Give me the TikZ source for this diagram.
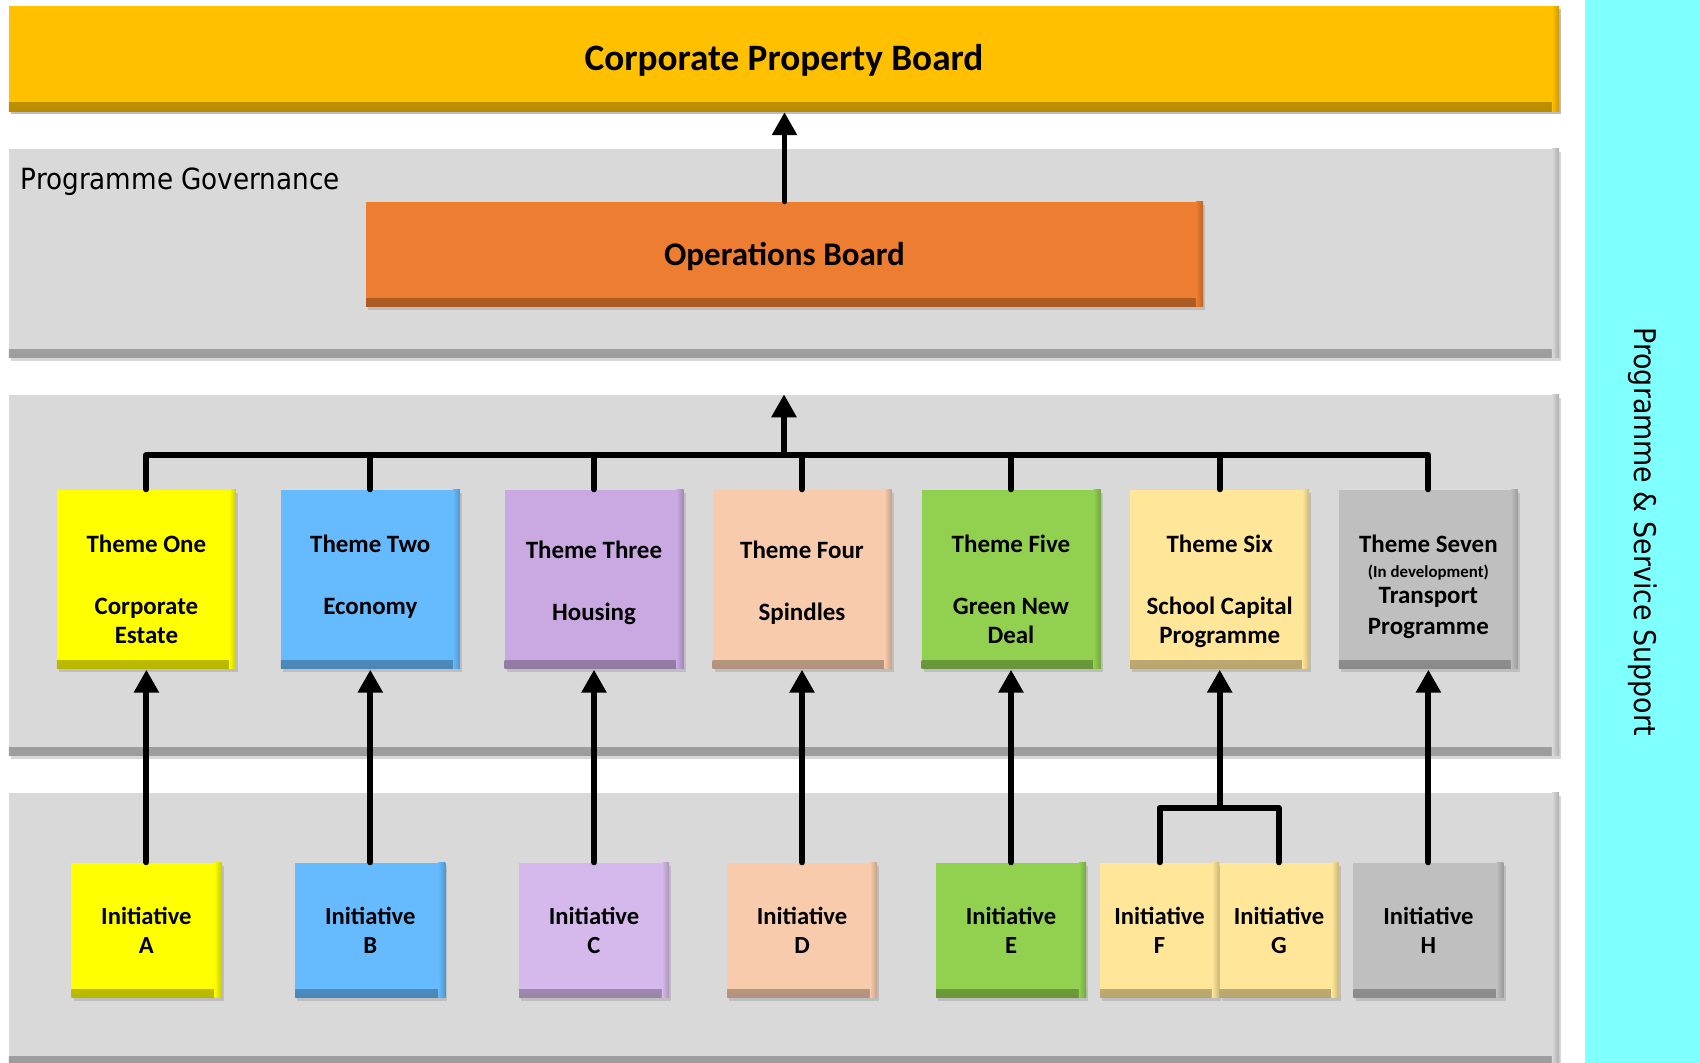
\documentclass[tikz,border=0pt]{standalone}
\usepackage{fontspec}
\setmainfont{Carlito}
\newfontfamily\sidefont[FakeStretch=0.9]{DejaVu Sans}
\usepackage{tikz}
\usetikzlibrary{shapes,arrows.meta,positioning,shadows}
\definecolor{corpgold}{HTML}{FFC000}
\definecolor{opsorange}{HTML}{ED7D31}
\definecolor{bandgrey}{HTML}{D9D9D9}
\definecolor{supportcyan}{HTML}{80FFFF}
\definecolor{themeyellow}{HTML}{FFFF00}
\definecolor{themeblue}{HTML}{66BBFF}
\definecolor{themepurple}{HTML}{CAA9E3}
\definecolor{initpurple}{HTML}{D5B9EC}
\definecolor{themepeach}{HTML}{F7CBAC}
\definecolor{themegreen}{HTML}{92D050}
\definecolor{themecream}{HTML}{FFE699}
\definecolor{themegrey}{HTML}{BFBFBF}
\tikzset{bevel/.style={fill=#1, inner sep=0pt,
	drop shadow={shadow xshift=0.6pt, shadow yshift=-0.8pt, opacity=0.3},
	path picture={
		\shade[top color=#1, bottom color=#1!72!black] ([yshift=2.5pt]path picture bounding box.south west) rectangle (path picture bounding box.south east);
		\shade[left color=#1, right color=#1!80!black] ([xshift=-2pt]path picture bounding box.south east) rectangle (path picture bounding box.north east);}}}
\tikzstyle{band} =[bevel=bandgrey, minimum width=15.5cm]
\tikzstyle{board} =[font=\bfseries\fontsize{10.6}{12}\selectfont, minimum height=1.05cm, text height=2.4mm, text depth=0mm]
\tikzstyle{theme} =[minimum width=1.79cm, minimum height=1.79cm]
\tikzstyle{themetext} =[inner sep=0pt, align=center, font=\bfseries\fontsize{7.1}{8.4}\selectfont]
\tikzstyle{initiative} =[minimum width=1.5cm, minimum height=1.35cm, align=center, font=\bfseries\fontsize{7}{8.3}\selectfont]
\tikzstyle{wire} =[line width=1.7pt, line cap=round, line join=round]
\tikzstyle{arrow} =[wire, -{Triangle[length=2.3mm, width=2.4mm]}]

\begin{document}
\begin{tikzpicture}
	\useasboundingbox (0,0) rectangle (17,10.63);
	\fill[white] (0,0) rectangle (17,10.63);
	% side column
	\node[fill=supportcyan, minimum width=10.63cm, minimum height=1.15cm, inner sep=0pt, rotate=-90,
		font=\sidefont\fontsize{8.5}{10}\selectfont] (support) at (16.425,5.315) {Programme \& Service Support};
	% grey bands
	\node[band, minimum height=2.09cm] (govband) at (7.84,8.095) {};
	\node[band, minimum height=3.61cm] (themeband) at (7.84,4.875) {};
	\node[band, minimum height=2.72cm] (initband) at (7.84,1.34) {};
	\node[anchor=west, inner sep=0pt, font=\sidefont\fontsize{8.3}{10}\selectfont] (govlabel) at (0.2,8.81) {Programme Governance};
	% boards
	\node[band, board, bevel=corpgold] (corp) at (7.84,10.04) {Corporate Property Board};
	\node[board, bevel=opsorange, minimum width=8.37cm, font=\bfseries\fontsize{9.4}{11}\selectfont, text height=2.2mm] (ops) at (7.845,8.085) {Operations Board};
	\draw[arrow] (ops.north) -- (ops.north |- corp.south);
	% themes
	\node[theme, bevel=themeyellow] (t1) at (1.464,4.835) {};
	\node[theme, bevel=themeblue] (t2) at (3.703,4.835) {};
	\node[theme, bevel=themepurple] (t3) at (5.94,4.835) {};
	\node[theme, bevel=themepeach] (t4) at (8.02,4.835) {};
	\node[theme, bevel=themegreen] (t5) at (10.11,4.835) {};
	\node[theme, bevel=themecream] (t6) at (12.197,4.835) {};
	\node[theme, bevel=themegrey] (t7) at (14.284,4.835) {};
	\node[themetext, below=0.455cm of t1.north] (t1text) {Theme One\\[9pt]Corporate\\Estate};
	\node[themetext, below=0.455cm of t2.north] (t2text) {Theme Two\\[9pt]Economy};
	\node[themetext, below=0.515cm of t3.north] (t3text) {Theme Three\\[9pt]Housing};
	\node[themetext, below=0.515cm of t4.north] (t4text) {Theme Four\\[9pt]Spindles};
	\node[themetext, below=0.455cm of t5.north] (t5text) {Theme Five\\[9pt]Green New\\Deal};
	\node[themetext, below=0.455cm of t6.north] (t6text) {Theme Six\\[9pt]School Capital\\Programme};
	\node[themetext, below=0.455cm of t7.north] (t7text) {Theme Seven\\[-1.3pt]{\fontsize{4.8}{5.5}\selectfont(In development)}\\[-1pt]Transport\\[0.4pt]Programme};
	\coordinate (bus) at (7.84,6.08);
	\draw[wire] (t1.north) -- (t1.north |- bus) -- (t7.north |- bus) -- (t7.north);
	\foreach \t in {t2,t3,t4,t5,t6}
		\draw[wire] (\t.north) -- (\t.north |- bus);
	\draw[arrow] (bus) -- (bus |- themeband.north);
	% initiatives
	\node[initiative, bevel=themeyellow] (ia) at (1.464,1.325) {Initiative\\A};
	\node[initiative, bevel=themeblue] (ib) at (3.703,1.325) {Initiative\\B};
	\node[initiative, bevel=initpurple] (ic) at (5.94,1.325) {Initiative\\C};
	\node[initiative, bevel=themepeach] (id) at (8.02,1.325) {Initiative\\D};
	\node[initiative, bevel=themegreen] (ie) at (10.11,1.325) {Initiative\\E};
	\node[initiative, bevel=themecream, minimum width=1.19cm] (if) at (11.595,1.325) {Initiative\\F};
	\node[initiative, bevel=themecream, minimum width=1.19cm] (ig) at (12.79,1.325) {Initiative\\G};
	\node[initiative, bevel=themegrey] (ih) at (14.284,1.325) {Initiative\\H};
	\draw[arrow] (ia) -- (t1);
	\draw[arrow] (ib) -- (t2);
	\draw[arrow] (ic) -- (t3);
	\draw[arrow] (id) -- (t4);
	\draw[arrow] (ie) -- (t5);
	\draw[arrow] (ih) -- (t7);
	\coordinate (fg) at (12.197,2.55);
	\draw[wire] (if.north) |- (fg) -| (ig.north);
	\draw[arrow] (fg) -- (t6.south);
\end{tikzpicture}
\end{document}
